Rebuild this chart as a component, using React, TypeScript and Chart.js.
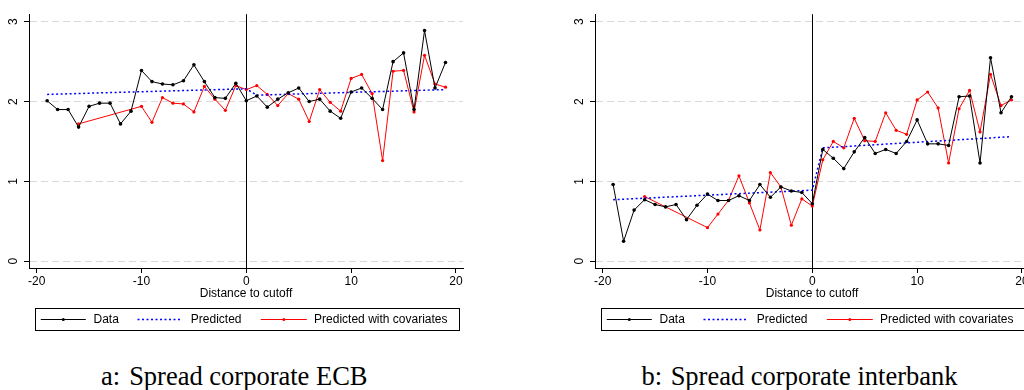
import React, { useEffect, useRef } from "react";
import { Chart, registerables } from "chart.js";

Chart.register(...registerables);

// ---------- data ----------
const distance = [
  -19, -18, -17, -16, -15, -14, -13, -12, -11, -10, -9, -8, -7, -6, -5, -4, -3, -2, -1, 0,
  1, 2, 3, 4, 5, 6, 7, 8, 9, 10, 11, 12, 13, 14, 15, 16, 17, 18, 19,
];

const xTicks = [-20, -10, 0, 10, 20];
const yTicks = [0, 1, 2, 3];

const seriesLabels = ["Data", "Predicted", "Predicted with covariates"];
const captionA = ["a:", "Spread corporate ECB"];
const captionB = ["b:", "Spread corporate interbank"];

// Panel a: Spread corporate ECB
const dataA = [
  2.01, 1.9, 1.9, 1.68, 1.94, 1.98, 1.98, 1.72, 1.88, 2.39, 2.25, 2.22, 2.21, 2.26, 2.46, 2.25, 2.05, 2.04, 2.23, 2.01,
  2.07, 1.93, 2.03, 2.11, 2.17, 2.0, 2.03, 1.88, 1.79, 2.12, 2.17, 2.04, 1.9, 2.5, 2.61, 1.9, 2.89, 2.17, 2.49,
];
const covA = [
  null, null, null, 1.72, null, null, null, null, null, 1.94, 1.74, 2.05, 1.98, 1.97, 1.87, 2.19, 2.03, 1.89, 2.2, 2.15,
  2.2, 2.09, 1.95, 2.1, 2.03, 1.75, 2.15, 1.99, 1.88, 2.29, 2.34, 2.1, 1.26, 2.38, 2.39, 1.87, 2.58, 2.22, 2.18,
];
const predXA = [-19, 0, 1, 19];
const predYA = [2.09, 2.16, 2.08, 2.15];

// Panel b: Spread corporate interbank
const dataB = [
  0.96, 0.25, 0.64, 0.77, 0.71, 0.68, 0.71, 0.52, 0.7, 0.84, 0.76, 0.76, 0.82, 0.76, 0.96, 0.8, 0.93, 0.88, 0.86, 0.72,
  1.4, 1.29, 1.16, 1.37, 1.55, 1.35, 1.4, 1.35, 1.5, 1.77, 1.47, 1.47, 1.45, 2.06, 2.07, 1.23, 2.55, 1.86, 2.06,
];
const covB = [
  null, null, null, 0.81, null, null, null, null, null, 0.42, 0.59, 0.76, 1.07, 0.73, 0.39, 1.11, 0.93, 0.45, 0.78, 0.69,
  1.27, 1.5, 1.42, 1.79, 1.51, 1.5, 1.86, 1.64, 1.59, 2.02, 2.12, 1.92, 1.23, 1.91, 2.14, 1.62, 2.34, 1.95, 2.02,
];
const predXB = [-19, 0, 1, 19];
const predYB = [0.77, 0.89, 1.42, 1.56];

// ---------- styling ----------
const FONT = "'Liberation Sans', Arial, Helvetica, sans-serif";

const cutoffLine = {
  id: "cutoffLine",
  beforeDatasetsDraw(chart: any) {
    const { ctx, chartArea, scales } = chart;
    const x = Math.round(scales.x.getPixelForValue(0)) + 0.5;
    ctx.save();
    ctx.strokeStyle = "#000";
    ctx.lineWidth = 1;
    ctx.beginPath();
    ctx.moveTo(x, chartArea.top);
    ctx.lineTo(x, chartArea.bottom);
    ctx.stroke();
    ctx.restore();
  },
};

const boxLegend = {
  id: "boxLegend",
  afterDraw(chart: any) {
    const { ctx, chartArea } = chart;
    const bx = Math.round(chartArea.left + 6) + 0.5;
    const by = 308.5;
    const bw = 424;
    const bh = 22;
    const cy = by + bh / 2;
    const layout = [
      [5.3, 50.3, 58],
      [102, 145.3, 155.3],
      [225.3, 271.3, 278.6],
    ];
    ctx.save();
    ctx.strokeStyle = "#000";
    ctx.lineWidth = 1;
    ctx.strokeRect(bx, by, bw, bh);
    chart.data.datasets.forEach((ds: any, i: number) => {
      const [s0, s1, tx] = layout[i];
      ctx.save();
      ctx.strokeStyle = ds.borderColor;
      ctx.lineWidth = ds.borderWidth;
      ctx.setLineDash(ds.borderDash || []);
      ctx.beginPath();
      ctx.moveTo(bx + s0, cy);
      ctx.lineTo(bx + s1, cy);
      ctx.stroke();
      ctx.restore();
      if (ds.pointRadius > 0) {
        ctx.fillStyle = ds.pointBackgroundColor;
        ctx.beginPath();
        ctx.arc(bx + (s0 + s1) / 2, cy, 1.5, 0, Math.PI * 2);
        ctx.fill();
      }
      ctx.fillStyle = "#000";
      ctx.font = `12px ${FONT}`;
      ctx.textBaseline = "middle";
      ctx.textAlign = "left";
      ctx.fillText(ds.label, bx + tx, cy);
    });
    ctx.restore();
  },
};

function Panel({ data, cov, predX, predY }: { data: (number | null)[]; cov: (number | null)[]; predX: number[]; predY: number[] }) {
  const ref = useRef<HTMLCanvasElement | null>(null);
  useEffect(() => {
    if (!ref.current) return;
    const toPts = (arr: (number | null)[]) => distance.map((d, i) => ({ x: d, y: arr[i] }));
    const chart = new Chart(ref.current, {
      type: "line",
      data: {
        datasets: [
          {
            label: seriesLabels[0],
            data: toPts(data) as any,
            borderColor: "#000000",
            backgroundColor: "#000000",
            pointBackgroundColor: "#000000",
            borderWidth: 1,
            pointRadius: 1.8,
            pointBorderWidth: 0,
            spanGaps: true,
            tension: 0,
          },
          {
            label: seriesLabels[1],
            data: predX.map((x, i) => ({ x, y: predY[i] })) as any,
            borderColor: "#0000ff",
            backgroundColor: "#0000ff",
            pointBackgroundColor: "#0000ff",
            borderWidth: 1.5,
            borderDash: [2, 2.5],
            pointRadius: 0,
            spanGaps: true,
            tension: 0,
          },
          {
            label: seriesLabels[2],
            data: toPts(cov) as any,
            borderColor: "#ff0000",
            backgroundColor: "#ff0000",
            pointBackgroundColor: "#ff0000",
            borderWidth: 1,
            pointRadius: 1.6,
            pointBorderWidth: 0,
            spanGaps: true,
            tension: 0,
          },
        ],
      },
      options: {
        responsive: false,
        animation: false,
        devicePixelRatio: 1,
        layout: { padding: { top: 9, right: 49, left: 0, bottom: 0 } },
        plugins: { legend: { display: false }, tooltip: { enabled: false }, title: { display: false } },
        scales: {
          x: {
            type: "linear",
            min: -20.73,
            max: 20.67,
            afterFit: (s: any) => {
              s.height = 72;
            },
            afterBuildTicks: (s: any) => {
              s.ticks = xTicks.map((v) => ({ value: v }));
            },
            ticks: {
              includeBounds: false,
              color: "#000",
              font: { family: FONT, size: 12 },
              padding: 1,
              maxRotation: 0,
              autoSkip: false,
            },
            grid: { drawOnChartArea: false, drawTicks: true, tickLength: 5, tickColor: "#000", tickWidth: 1 },
            border: { display: true, color: "#000", width: 1 },
            title: {
              display: true,
              text: "Distance to cutoff",
              color: "#000",
              font: { family: FONT, size: 12 },
              padding: { top: 0, bottom: 39 },
            },
          },
          y: {
            type: "linear",
            min: -0.086,
            max: 3.095,
            afterFit: (s: any) => {
              s.width = 29;
            },
            afterBuildTicks: (s: any) => {
              s.ticks = yTicks.map((v) => ({ value: v }));
            },
            ticks: {
              includeBounds: false,
              color: "#000",
              font: { family: FONT, size: 12 },
              padding: 7,
              minRotation: 90,
              maxRotation: 90,
              crossAlign: "center",
              autoSkip: false,
            },
            grid: {
              color: "#d9d9d9",
              lineWidth: 1,
              drawTicks: true,
              tickLength: 5,
              tickColor: "#000",
              tickWidth: 1,
              tickBorderDash: [],
            },
            border: { display: true, color: "#000", width: 1, dash: [7, 4] },
          },
        },
      } as any,
      plugins: [cutoffLine, boxLegend],
    });
    return () => chart.destroy();
  }, []);
  return <canvas ref={ref} width={512} height={340} style={{ display: "block", width: 512, height: 340 }} />;
}

const captionStyle: React.CSSProperties = {
  position: "absolute",
  top: 362.5,
  fontFamily: "'Liberation Serif', 'Times New Roman', serif",
  fontSize: 26.5,
  lineHeight: "26.5px",
  whiteSpace: "nowrap",
  color: "#000",
};

export default function App() {
  return (
    <div style={{ position: "fixed", left: 0, top: 0, width: 1024, height: 390, overflow: "hidden", background: "#fff" }}>
      <div style={{ position: "absolute", left: 0, top: 0 }}>
        <Panel data={dataA} cov={covA} predX={predXA} predY={predYA} />
      </div>
      <div style={{ position: "absolute", left: 566, top: 0 }}>
        <Panel data={dataB} cov={covB} predX={predXB} predY={predYB} />
      </div>
      <div style={{ ...captionStyle, left: 101 }}>
        {captionA[0]}
        <span style={{ marginLeft: 9 }}>{captionA[1]}</span>
      </div>
      <div style={{ ...captionStyle, left: 641.5 }}>
        {captionB[0]}
        <span style={{ marginLeft: 8.5 }}>{captionB[1]}</span>
      </div>
    </div>
  );
}
